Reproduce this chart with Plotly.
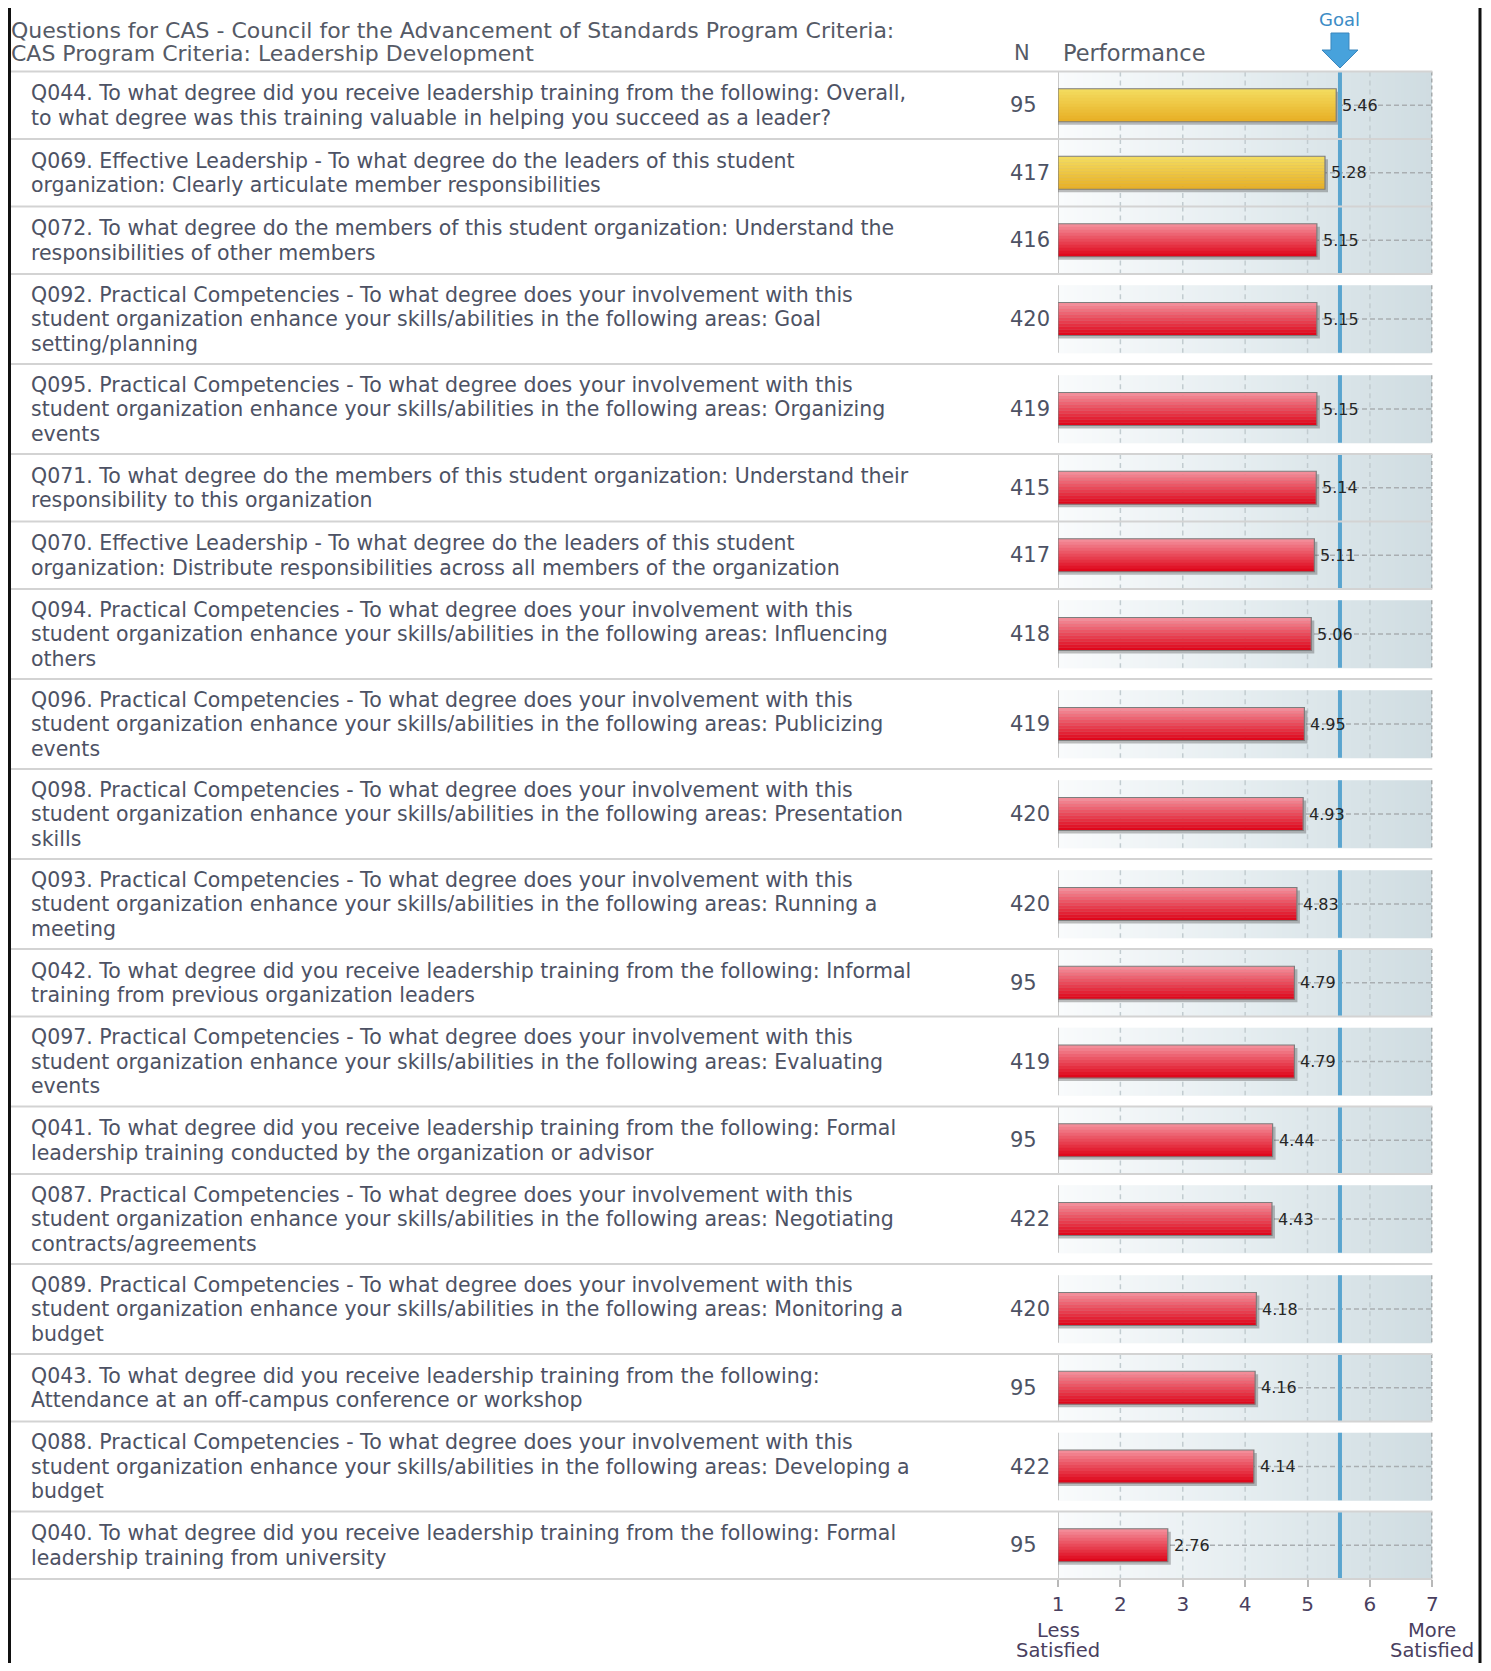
import numpy as np
import plotly.graph_objects as go

# ---------------- data ----------------
questions = [
    "Q044. To what degree did you receive leadership training from the following: Overall,<br>to what degree was this training valuable in helping you succeed as a leader?",
    "Q069. Effective Leadership - To what degree do the leaders of this student<br>organization: Clearly articulate member responsibilities",
    "Q072. To what degree do the members of this student organization: Understand the<br>responsibilities of other members",
    "Q092. Practical Competencies - To what degree does your involvement with this<br>student organization enhance your skills/abilities in the following areas: Goal<br>setting/planning",
    "Q095. Practical Competencies - To what degree does your involvement with this<br>student organization enhance your skills/abilities in the following areas: Organizing<br>events",
    "Q071. To what degree do the members of this student organization: Understand their<br>responsibility to this organization",
    "Q070. Effective Leadership - To what degree do the leaders of this student<br>organization: Distribute responsibilities across all members of the organization",
    "Q094. Practical Competencies - To what degree does your involvement with this<br>student organization enhance your skills/abilities in the following areas: Influencing<br>others",
    "Q096. Practical Competencies - To what degree does your involvement with this<br>student organization enhance your skills/abilities in the following areas: Publicizing<br>events",
    "Q098. Practical Competencies - To what degree does your involvement with this<br>student organization enhance your skills/abilities in the following areas: Presentation<br>skills",
    "Q093. Practical Competencies - To what degree does your involvement with this<br>student organization enhance your skills/abilities in the following areas: Running a<br>meeting",
    "Q042. To what degree did you receive leadership training from the following: Informal<br>training from previous organization leaders",
    "Q097. Practical Competencies - To what degree does your involvement with this<br>student organization enhance your skills/abilities in the following areas: Evaluating<br>events",
    "Q041. To what degree did you receive leadership training from the following: Formal<br>leadership training conducted by the organization or advisor",
    "Q087. Practical Competencies - To what degree does your involvement with this<br>student organization enhance your skills/abilities in the following areas: Negotiating<br>contracts/agreements",
    "Q089. Practical Competencies - To what degree does your involvement with this<br>student organization enhance your skills/abilities in the following areas: Monitoring a<br>budget",
    "Q043. To what degree did you receive leadership training from the following:<br>Attendance at an off-campus conference or workshop",
    "Q088. Practical Competencies - To what degree does your involvement with this<br>student organization enhance your skills/abilities in the following areas: Developing a<br>budget",
    "Q040. To what degree did you receive leadership training from the following: Formal<br>leadership training from university",
]
n_values = [95, 417, 416, 420, 419, 415, 417, 418, 419, 420, 420, 95, 419, 95, 422, 420, 95, 422, 95]
scores = [5.46, 5.28, 5.15, 5.15, 5.15, 5.14, 5.11, 5.06, 4.95, 4.93, 4.83,
          4.79, 4.79, 4.44, 4.43, 4.18, 4.16, 4.14, 2.76]
status = ["near", "near"] + ["below"] * 17
goal = 5.52
tick_values = [1, 2, 3, 4, 5, 6, 7]
header_lines = ["Questions for CAS - Council for the Advancement of Standards Program Criteria:",
                "CAS Program Criteria: Leadership Development"]
scale_low = ["Less", "Satisfied"]
scale_high = ["More", "Satisfied"]

# ---------------- layout constants (page pixels) ----------------
PAGE_W, PAGE_H = 1491, 1671
OFF = 8                      # default body margin of the html page
W, H = PAGE_W - 2 * OFF, PAGE_H - 2 * OFF


def px(xp):                  # page x pixel -> paper fraction
    return (xp - OFF) / W


X_LO_PX, X_HI_PX = 1058.0, 1432.3
PX_PER_UNIT = (X_HI_PX - X_LO_PX) / (tick_values[-1] - tick_values[0])
HEADER_BOTTOM = 71.5
ROW_H = {2: 67.5, 3: 90.0}
PANEL_H = 67.5
BAR_H = 33.0
LINE_SP = 24.5
N_BANDS = 11
SHADOW_PX = 3.0

FONT = "DejaVu Sans"
TEXT_C = "#4d5264"
HEAD_C = "#555a66"
TICK_C = "#4a3f5f"

grad_colors = {
    "near": ((243, 219, 94), (232, 176, 38)),
    "below": ((243, 140, 152), (223, 8, 28)),
}

# ---------------- row geometry ----------------
row_bots, centers = [], []
y = HEADER_BOTTOM
for q in questions:
    nl = q.count("<br>") + 1
    h = ROW_H.get(nl, ROW_H[3])
    row_bots.append(y + h)
    centers.append(y + h / 2)
    y += h
panel_tops = [c - PANEL_H / 2 for c in centers]
panel_bots = [c + PANEL_H / 2 for c in centers]

fig = go.Figure()

# panel gradient backgrounds (heatmaps, base subplot)
xedges = np.linspace(tick_values[0], tick_values[-1], 121)
xcent = (xedges[:-1] + xedges[1:]) / 2
for t, b in zip(panel_tops, panel_bots):
    fig.add_trace(go.Heatmap(
        x=xedges, y=[t, b], z=[xcent], zmin=1, zmax=7,
        colorscale=[[0, "#f9fbfc"], [0.5, "#e5edf0"], [1, "#cfdce1"]],
        showscale=False, hoverinfo="skip"))


def seg_lines(xs_pairs, ys_pairs):
    xs, ys = [], []
    for (xa, xb), (ya, yb) in zip(xs_pairs, ys_pairs):
        xs += [xa, xb, None]
        ys += [ya, yb, None]
    return xs, ys


inner = tick_values[1:-1]
vx, vy = seg_lines([(g, g) for t in panel_tops for g in inner],
                   [(t, b) for t, b in zip(panel_tops, panel_bots) for g in inner])
fig.add_trace(go.Scatter(x=vx, y=vy, mode="lines", hoverinfo="skip", showlegend=False,
                         line=dict(color="#c2ccd0", width=1.5, dash="5px,4px")))
hx, hy = seg_lines([(tick_values[0], tick_values[-1]) for c in centers],
                   [(c, c) for c in centers])
fig.add_trace(go.Scatter(x=hx, y=hy, mode="lines", hoverinfo="skip", showlegend=False,
                         line=dict(color="#a9aeb1", width=1.5, dash="5px,3px")))
rx, ry = seg_lines([(tick_values[-1], tick_values[-1]) for c in centers],
                   list(zip(panel_tops, panel_bots)))
fig.add_trace(go.Scatter(x=rx, y=ry, mode="lines", hoverinfo="skip", showlegend=False,
                         line=dict(color="#707070", width=1.5, dash="4px,3px")))
lx, ly = seg_lines([(tick_values[0], tick_values[0]) for c in centers],
                   list(zip(panel_tops, panel_bots)))
fig.add_trace(go.Scatter(x=lx, y=ly, mode="lines", hoverinfo="skip", showlegend=False,
                         line=dict(color="#c8c8c8", width=2)))

# bars (overlay subplot so they sit above grid lines)
base = tick_values[0]
lengths = [s - base for s in scores]
shift = SHADOW_PX / PX_PER_UNIT
fig.add_trace(go.Bar(
    y=centers, x=[l + shift for l in lengths], base=base, orientation="h",
    width=BAR_H, offset=-BAR_H / 2 + SHADOW_PX,
    marker=dict(color="rgba(70,70,70,0.35)", line=dict(width=0)),
    xaxis="x2", yaxis="y2", hoverinfo="skip", showlegend=False))
band_h = BAR_H / N_BANDS
for i in range(N_BANDS):
    f = i / (N_BANDS - 1)
    cols = []
    for s in status:
        top, bot = grad_colors[s]
        c = tuple(int(round(top[k] + (bot[k] - top[k]) * f)) for k in range(3))
        cols.append("rgb(%d,%d,%d)" % c)
    fig.add_trace(go.Bar(
        y=centers, x=lengths, base=base, orientation="h",
        width=band_h + 0.3, offset=-BAR_H / 2 + i * band_h,
        marker=dict(color=cols, line=dict(width=0)),
        xaxis="x2", yaxis="y2", hoverinfo="skip", showlegend=False))
fig.add_trace(go.Bar(
    y=centers, x=lengths, base=base, orientation="h",
    width=BAR_H, offset=-BAR_H / 2,
    marker=dict(color="rgba(0,0,0,0)", line=dict(color="#7d7d7d", width=1.2)),
    xaxis="x2", yaxis="y2", hoverinfo="skip", showlegend=False))

shapes = []
for t, b in zip(panel_tops, panel_bots):
    shapes.append(dict(type="line", xref="x", yref="y", x0=goal, x1=goal, y0=t, y1=b,
                       line=dict(color="#5aa5cf", width=4), layer="above"))
seps = sorted(set([HEADER_BOTTOM] + row_bots))
for s in seps:
    shapes.append(dict(type="line", xref="paper", yref="y", x0=px(OFF), x1=px(X_HI_PX),
                       y0=s, y1=s, line=dict(color="#d3d3d3", width=2), layer="above"))
for xp in (OFF + 1.5, 1480):
    shapes.append(dict(type="line", xref="paper", yref="paper", x0=px(xp), x1=px(xp), y0=0, y1=1,
                       line=dict(color="#111111", width=3), layer="above"))
shapes.append(dict(type="path", xref="x", yref="y", xsizemode="pixel", xanchor=goal,
                   path="M -9,33 L 9,33 L 9,50 L 18,50 L 0,68 L -18,50 L -9,50 Z",
                   fillcolor="#47a2dc", line=dict(color="#3a86bd", width=1), layer="above"))

ann = []
for q, c in zip(questions, centers):
    lines = q.split("<br>")
    n = len(lines)
    for j, ln in enumerate(lines):
        ann.append(dict(xref="paper", yref="y", x=px(29), y=c + (j - (n - 1) / 2) * LINE_SP,
                        text=ln, showarrow=False, xanchor="left", yanchor="middle",
                        font=dict(family=FONT, size=20.5, color=TEXT_C)))
for nv, c in zip(n_values, centers):
    ann.append(dict(xref="paper", yref="y", x=px(1008), y=c, text=str(nv), showarrow=False,
                    xanchor="left", yanchor="middle", font=dict(family=FONT, size=21, color=TEXT_C)))
for s, c in zip(scores, centers):
    ann.append(dict(xref="x", yref="y", x=s, y=c, text="%.2f" % s, showarrow=False,
                    xanchor="left", yanchor="middle", xshift=4,
                    font=dict(family=FONT, size=16, color="#262626")))
for j, hl in enumerate(header_lines):
    ann.append(dict(xref="paper", yref="y", x=px(9), y=30 + j * 23, text=hl, showarrow=False,
                    xanchor="left", yanchor="middle", font=dict(family=FONT, size=22, color=HEAD_C)))
ann.append(dict(xref="paper", yref="y", x=px(1022), y=53, text="N", showarrow=False,
                xanchor="center", yanchor="middle", font=dict(family=FONT, size=21, color=HEAD_C)))
ann.append(dict(xref="paper", yref="y", x=px(1061), y=53, text="Performance", showarrow=False,
                xanchor="left", yanchor="middle", font=dict(family=FONT, size=22.5, color=HEAD_C)))
ann.append(dict(xref="x", yref="y", x=goal, y=19, text="Goal", showarrow=False,
                xanchor="center", yanchor="middle", font=dict(family=FONT, size=18, color="#3d8cc6")))
for xv, words in ((tick_values[0], scale_low), (tick_values[-1], scale_high)):
    for j, wd in enumerate(words):
        ann.append(dict(xref="x", yref="y", x=xv, y=1630 + j * 20, text=wd, showarrow=False,
                        xanchor="center", yanchor="middle",
                        font=dict(family=FONT, size=19.5, color=TICK_C)))

axis_bottom = row_bots[-1]
fig.update_layout(
    width=W, height=H, margin=dict(l=0, r=0, t=0, b=0, pad=0, autoexpand=False),
    paper_bgcolor="white", plot_bgcolor="rgba(0,0,0,0)",
    barmode="overlay", showlegend=False,
    xaxis=dict(domain=[px(X_LO_PX), px(X_HI_PX)], range=[tick_values[0], tick_values[-1]],
               anchor="free", position=(H + OFF - axis_bottom) / H, side="bottom",
               tickvals=tick_values, ticks="outside", ticklen=7, tickcolor="#b8b8b8",
               tickwidth=1.5, tickfont=dict(family=FONT, size=20, color=TICK_C),
               showgrid=False, zeroline=False, showline=False, fixedrange=True,
               automargin=False),
    yaxis=dict(domain=[0, 1], range=[H + OFF, OFF], visible=False, fixedrange=True,
               automargin=False),
    xaxis2=dict(overlaying="x", matches="x", visible=False),
    yaxis2=dict(overlaying="y", matches="y", visible=False),
    shapes=shapes, annotations=ann,
)

fig.write_html("out.html", config={"responsive": False, "displayModeBar": False})
